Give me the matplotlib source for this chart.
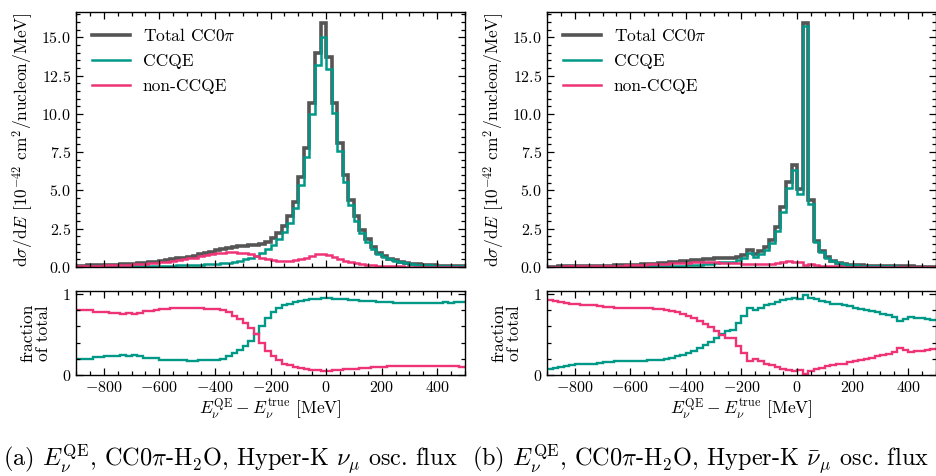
import numpy as np
import matplotlib
matplotlib.use("Agg")
import matplotlib.pyplot as plt
from matplotlib.ticker import MultipleLocator, FixedLocator

plt.rcParams.update({
    "font.family": "serif",
    "font.serif": ["cmr10", "DejaVu Serif"],
    "mathtext.fontset": "cm",
    "axes.formatter.use_mathtext": True,
    "axes.unicode_minus": True,
})

# Bin edges of the reconstructed-minus-true energy [MeV]
bin_edges = np.arange(-900, 501, 20)

# Total CC0pi cross section per bin, nu_mu flux [1e-42 cm^2/nucleon/MeV]
total_numu = [
    0.08, 0.09, 0.10, 0.11, 0.12, 0.13, 0.14, 0.16, 0.18, 0.20,
    0.22, 0.25, 0.28, 0.31, 0.35, 0.39, 0.44, 0.50, 0.56, 0.62,
    0.68, 0.75, 0.84, 0.93, 1.01, 1.09, 1.17, 1.24, 1.30, 1.35,
    1.39, 1.42, 1.46, 1.53, 1.65, 1.90, 2.25, 2.65, 3.30, 4.25,
    5.85, 7.80, 10.70, 14.00, 15.90, 13.70, 10.70, 8.10, 6.00, 4.35,
    3.30, 2.40, 1.80, 1.30, 0.93, 0.70, 0.55, 0.43, 0.34, 0.28,
    0.22, 0.18, 0.15, 0.12, 0.10, 0.08, 0.07, 0.06, 0.05, 0.04,
]
# CCQE fraction of the total, nu_mu flux
ccqe_frac_numu = [
    0.196, 0.196, 0.20, 0.225, 0.225, 0.23, 0.24, 0.24, 0.245, 0.24,
    0.245, 0.24, 0.21, 0.21, 0.205, 0.19, 0.185, 0.18, 0.18, 0.18,
    0.175, 0.175, 0.18, 0.185, 0.19, 0.19, 0.20, 0.23, 0.27, 0.31,
    0.36, 0.42, 0.50, 0.60, 0.70, 0.77, 0.82, 0.86, 0.88, 0.90,
    0.91, 0.925, 0.935, 0.94, 0.945, 0.945, 0.94, 0.935, 0.93, 0.925,
    0.92, 0.915, 0.91, 0.905, 0.90, 0.90, 0.895, 0.89, 0.89, 0.885,
    0.885, 0.89, 0.885, 0.89, 0.89, 0.89, 0.895, 0.89, 0.895, 0.90,
]

# Total CC0pi cross section per bin, anti-nu_mu flux
total_numubar = [
    0.03, 0.03, 0.035, 0.04, 0.04, 0.045, 0.05, 0.055, 0.06, 0.07,
    0.08, 0.09, 0.10, 0.11, 0.12, 0.14, 0.16, 0.18, 0.20, 0.22,
    0.25, 0.28, 0.31, 0.34, 0.37, 0.40, 0.43, 0.46, 0.50, 0.53,
    0.56, 0.58, 0.60, 0.62, 0.68, 0.78, 1.08, 0.85, 1.02, 1.28,
    1.75, 2.60, 3.90, 5.55, 6.67, 5.10, 15.90, 4.35, 1.73, 1.07,
    0.63, 0.42, 0.28, 0.20, 0.15, 0.12, 0.10, 0.09, 0.08, 0.07,
    0.06, 0.055, 0.05, 0.045, 0.04, 0.035, 0.03, 0.03, 0.025, 0.02,
]
# CCQE fraction of the total, anti-nu_mu flux
ccqe_frac_numubar = [
    0.075, 0.09, 0.10, 0.11, 0.12, 0.13, 0.135, 0.14, 0.14, 0.15,
    0.16, 0.165, 0.17, 0.17, 0.17, 0.175, 0.17, 0.175, 0.18, 0.185,
    0.19, 0.20, 0.21, 0.23, 0.25, 0.27, 0.30, 0.33, 0.37, 0.41,
    0.46, 0.51, 0.54, 0.55, 0.64, 0.73, 0.83, 0.80, 0.83, 0.86,
    0.88, 0.90, 0.92, 0.935, 0.95, 0.94, 0.99, 0.95, 0.93, 0.91,
    0.895, 0.88, 0.87, 0.86, 0.845, 0.83, 0.815, 0.80, 0.785, 0.77,
    0.75, 0.74, 0.72, 0.67, 0.69, 0.72, 0.70, 0.70, 0.695, 0.68,
]

captions = [
    r"(a) $E_\nu^{\mathrm{QE}}$, CC0$\pi$-H$_2$O, Hyper-K $\nu_\mu$ osc. flux",
    r"(b) $E_\nu^{\mathrm{QE}}$, CC0$\pi$-H$_2$O, Hyper-K $\bar{\nu}_\mu$ osc. flux",
]

GREY = "#555555"
TEAL = "#009988"
PINK = "#EE3377"

W, H = 937, 476
fig = plt.figure(figsize=(W / 100, H / 100), dpi=100)


def px_axes(x0, y0, x1, y1):
    return fig.add_axes([x0 / W, 1 - y1 / H, (x1 - x0) / W, (y1 - y0) / H])


def style(ax):
    ax.tick_params(which="both", direction="in", top=True, right=True,
                   labelsize=11.5, width=0.9)
    ax.tick_params(which="major", length=5)
    ax.tick_params(which="minor", length=3)
    for s in ax.spines.values():
        s.set_linewidth(1.0)


panels = [
    (76, total_numu, ccqe_frac_numu, 230),
    (547, total_numubar, ccqe_frac_numubar, 701),
]

for (x0, total, frac, cap_x), caption in zip(panels, captions):
    total = np.asarray(total)
    frac = np.asarray(frac)
    ccqe = total * frac
    nonccqe = total * (1 - frac)

    ax = px_axes(x0, 12, x0 + 389, 267)
    ax.stairs(total, bin_edges, baseline=None, color=GREY, lw=2.6,
              label=r"Total CC0$\pi$")
    ax.stairs(ccqe, bin_edges, baseline=None, color=TEAL, lw=1.8,
              label="CCQE")
    ax.stairs(nonccqe, bin_edges, baseline=None, color=PINK, lw=1.8,
              label="non-CCQE")
    ax.set_xlim(-900, 500)
    ax.set_ylim(0, 16.65)
    ax.xaxis.set_major_locator(MultipleLocator(200))
    ax.xaxis.set_minor_locator(MultipleLocator(50))
    ax.yaxis.set_major_locator(MultipleLocator(2.5))
    ax.yaxis.set_minor_locator(MultipleLocator(0.5))
    ax.yaxis.set_major_formatter(plt.FormatStrFormatter(r"$\mathdefault{%.1f}$"))
    style(ax)
    ax.tick_params(labelbottom=False)
    ax.set_ylabel(r"$\mathrm{d}\sigma/\mathrm{d}E$ $[10^{-42}$ cm$^2$/nucleon/MeV$]$",
                  fontsize=12.5, labelpad=4)
    ax.legend(loc="upper left", frameon=False, fontsize=12.5,
              handlelength=2.2, handletextpad=0.75, labelspacing=0.55,
              borderaxespad=0.5)

    axf = px_axes(x0, 290.5, x0 + 389, 375)
    axf.stairs(frac, bin_edges, baseline=None, color=TEAL, lw=1.7)
    axf.stairs(1 - frac, bin_edges, baseline=None, color=PINK, lw=1.7)
    axf.set_xlim(-900, 500)
    axf.set_ylim(0, 1.04)
    axf.xaxis.set_major_locator(MultipleLocator(200))
    axf.xaxis.set_minor_locator(MultipleLocator(50))
    axf.yaxis.set_major_locator(FixedLocator([0, 1]))
    axf.yaxis.set_minor_locator(MultipleLocator(0.2))
    style(axf)
    axf.set_ylabel("fraction\nof total", fontsize=12.5, labelpad=8,
                   linespacing=0.95)
    axf.set_xlabel(r"$E_\nu^{\mathrm{QE}} - E_\nu^{\mathrm{true}}$ [MeV]",
                   fontsize=12.5, labelpad=1)

    fig.text(cap_x / W, 1 - 459 / H, caption, ha="center", va="center",
             fontsize=17.5)

fig.savefig("out.png", dpi=100)
